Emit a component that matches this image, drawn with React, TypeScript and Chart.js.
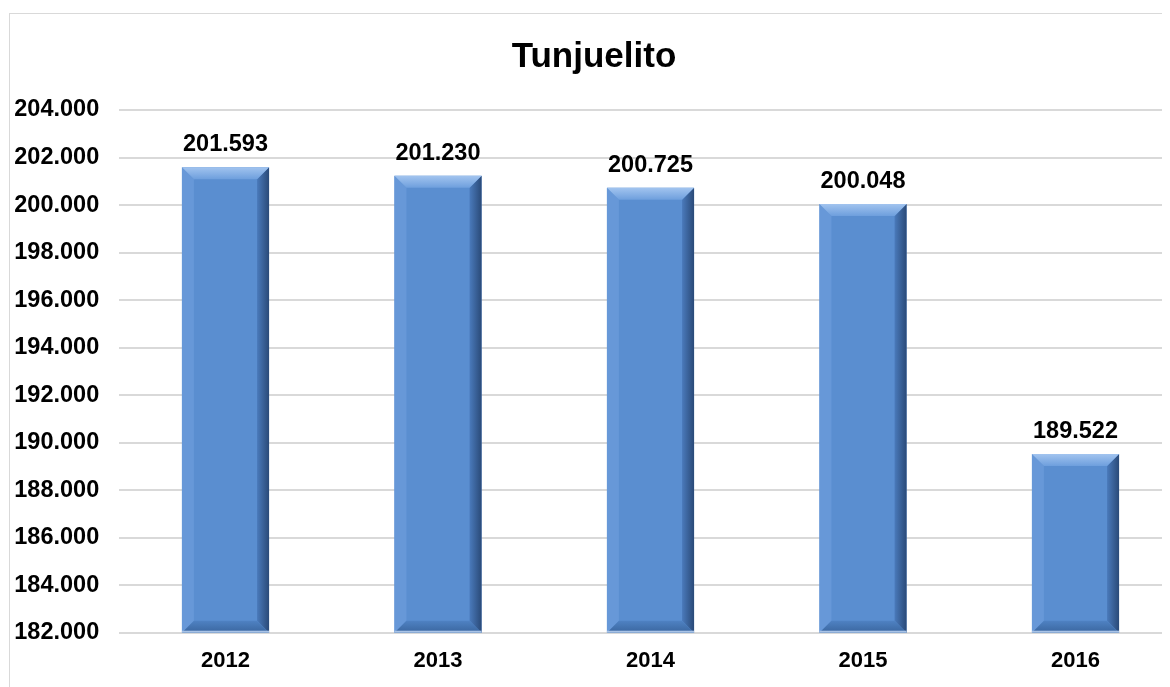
import React, { useEffect, useRef } from "react";
import { Chart, registerables } from "chart.js";

Chart.register(...registerables);

const TITLE = "Tunjuelito";
const YEARS = ["2012", "2013", "2014", "2015", "2016"];
const POPULATION = [201593, 201230, 200725, 200048, 189522];
const Y_MIN = 182000;
const Y_MAX = 204000;
const Y_STEP = 2000;

const FONT = "'Liberation Sans', Arial, Helvetica, sans-serif";

const fmt = (v: number) =>
  Math.round(v)
    .toString()
    .replace(/\B(?=(\d{3})+(?!\d))/g, ".");

function poly(ctx: CanvasRenderingContext2D, pts: number[][], fill: any) {
  ctx.beginPath();
  ctx.moveTo(pts[0][0], pts[0][1]);
  for (let i = 1; i < pts.length; i++) ctx.lineTo(pts[i][0], pts[i][1]);
  ctx.closePath();
  ctx.fillStyle = fill;
  ctx.fill();
}

const bevelPlugin = {
  id: "bevelBars",
  afterDatasetsDraw(chart: any) {
    const ctx: CanvasRenderingContext2D = chart.ctx;
    const area = chart.chartArea;
    const meta = chart.getDatasetMeta(0);
    ctx.save();
    meta.data.forEach((bar: any, i: number) => {
      const { x, y, base, width } = bar.getProps(["x", "y", "base", "width"], true);
      const l = x - width / 2;
      const r = x + width / 2;
      const t = Math.max(Math.min(y, base), area.top);
      const b = Math.min(Math.max(y, base), area.bottom);
      const bv = Math.min(12, (b - t) / 2);
      // left bevel
      poly(ctx, [[l, t], [l + bv, t + bv], [l + bv, b - bv], [l, b]], "#6798d8");
      // right bevel
      const gr = ctx.createLinearGradient(r - bv, 0, r, 0);
      gr.addColorStop(0, "#4a7abb");
      gr.addColorStop(1, "#2a4a78");
      poly(ctx, [[r, t], [r, b], [r - bv, b - bv], [r - bv, t + bv]], gr);
      // bottom bevel
      const gb = ctx.createLinearGradient(0, b - bv, 0, b);
      gb.addColorStop(0, "#4f82c3");
      gb.addColorStop(1, "#3a669f");
      poly(ctx, [[l, b], [l + bv, b - bv], [r - bv, b - bv], [r, b]], gb);
      // top bevel
      const gt = ctx.createLinearGradient(0, t, 0, t + bv);
      gt.addColorStop(0, "#a2c4ef");
      gt.addColorStop(1, "#6e9fdd");
      poly(ctx, [[l, t], [r, t], [r - bv, t + bv], [l + bv, t + bv]], gt);
      // light bottom edge
      ctx.fillStyle = "#a9c3e6";
      ctx.fillRect(l, b - 2, width, 2);
      // value label
      ctx.fillStyle = "#000";
      ctx.font = `bold 23.5px ${FONT}`;
      ctx.textAlign = "center";
      ctx.textBaseline = "alphabetic";
      ctx.fillText(fmt(POPULATION[i]), x, t - 16);
    });
    ctx.restore();
  },
};

const titlePlugin = {
  id: "customTitle",
  afterDraw(chart: any) {
    const ctx: CanvasRenderingContext2D = chart.ctx;
    ctx.save();
    ctx.fillStyle = "#000";
    ctx.font = `bold 35px ${FONT}`;
    ctx.textAlign = "center";
    ctx.textBaseline = "alphabetic";
    ctx.fillText(TITLE, 586, 59);
    ctx.restore();
  },
};

export default function App() {
  const ref = useRef<HTMLCanvasElement | null>(null);

  useEffect(() => {
    if (!ref.current) return;
    const chart = new Chart(ref.current, {
      type: "bar",
      data: {
        labels: YEARS,
        datasets: [
          {
            data: POPULATION,
            backgroundColor: "#5a8ed0",
            borderWidth: 0,
            barPercentage: 0.41,
            categoryPercentage: 1,
          },
        ],
      },
      options: {
        animation: false,
        responsive: false,
        devicePixelRatio: 1,
        layout: { padding: { top: 102, right: 16.25, left: 0, bottom: 0 } },
        plugins: {
          legend: { display: false },
          title: { display: false },
          tooltip: { enabled: false },
        },
        scales: {
          x: {
            grid: { display: false, drawTicks: false },
            border: { display: false },
            ticks: {
              color: "#000",
              padding: 15,
              font: { family: FONT, size: 22, weight: "bold" },
            },
            afterFit: (scale: any) => {
              scale.height = 54.3;
            },
          },
          y: {
            min: Y_MIN,
            max: Y_MAX,
            grid: { color: "#d9d9d9", lineWidth: 2, drawTicks: false },
            border: { display: false },
            ticks: {
              stepSize: Y_STEP,
              color: "#000",
              padding: 20,
              font: { family: FONT, size: 23.5, weight: "bold" },
              callback: (v: any) => fmt(Number(v)),
            },
            afterFit: (scale: any) => {
              scale.width = 111.25;
            },
          },
        },
      },
      plugins: [bevelPlugin, titlePlugin],
    });
    return () => chart.destroy();
  }, []);

  return (
    <div
      style={{
        position: "relative",
        width: 1162,
        height: 679,
        overflow: "hidden",
        background: "#fff",
      }}
    >
      <div
        style={{
          position: "absolute",
          left: 1,
          top: 5,
          width: 1200,
          height: 720,
          border: "1px solid #d9d9d9",
          boxSizing: "border-box",
        }}
      />
      <canvas
        ref={ref}
        width={1190}
        height={679}
        style={{ position: "absolute", left: 0, top: 0 }}
      />
    </div>
  );
}
